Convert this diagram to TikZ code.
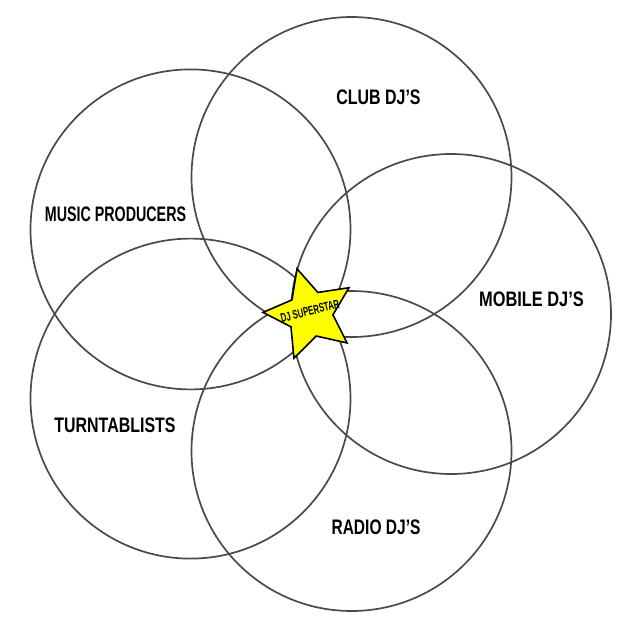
\documentclass[tikz,border=0pt]{standalone}
\usepackage{fontspec}
\usepackage{graphicx}
\setmainfont{Liberation Sans}
\usetikzlibrary{shapes.geometric}
\definecolor{ringgray}{HTML}{4A4A4A}
\definecolor{staryellow}{HTML}{FFFF00}
\tikzset{
  ring/.style={draw=ringgray, line width=1.7pt},
  lbl/.style={inner sep=0pt, font=\fontsize{21}{21}\selectfont\bfseries},
  superstar/.style={star, star points=5, star point ratio=2.05, minimum size=94pt, inner sep=0pt,
    shape border rotate=16, draw=black, line width=1.6pt, fill=staryellow},
  startext/.style={inner sep=0pt, font=\fontsize{12.5}{12.5}\selectfont\bfseries, rotate=14}
}
\newcommand{\cond}[2]{\scalebox{#1}[1]{#2}}
\begin{document}
\begin{tikzpicture}[x=1pt,y=-1pt]
\useasboundingbox (0,0) rectangle (630,630);
\coordinate (cClub) at (351.5,177);
\coordinate (cMusic) at (190.5,229.4);
\coordinate (cMobile) at (451,314);
\coordinate (cTurn) at (190.5,398.6);
\coordinate (cRadio) at (351.5,451);
\draw[ring] (cClub) circle[radius=160pt];
\draw[ring] (cMusic) circle[radius=160pt];
\draw[ring] (cMobile) circle[radius=160pt];
\draw[ring] (cTurn) circle[radius=160pt];
\draw[ring] (cRadio) circle[radius=160pt];
\node[lbl] (club) at (378.5,97) {\cond{0.76}{CLUB DJ’S}};
\node[lbl] (music) at (115.5,214.5) {\cond{0.68}{MUSIC PRODUCERS}};
\node[lbl] (mobile) at (531.5,299.5) {\cond{0.78}{MOBILE DJ’S}};
\node[lbl] (turn) at (115,425.5) {\cond{0.76}{TURNTABLISTS}};
\node[lbl] (radio) at (376,527) {\cond{0.74}{RADIO DJ’S}};
\node[superstar] (star) at (310,314) {};
\node[startext] (startxt) at (310,311) {\cond{0.63}{DJ SUPERSTAR}};
\end{tikzpicture}
\end{document}
